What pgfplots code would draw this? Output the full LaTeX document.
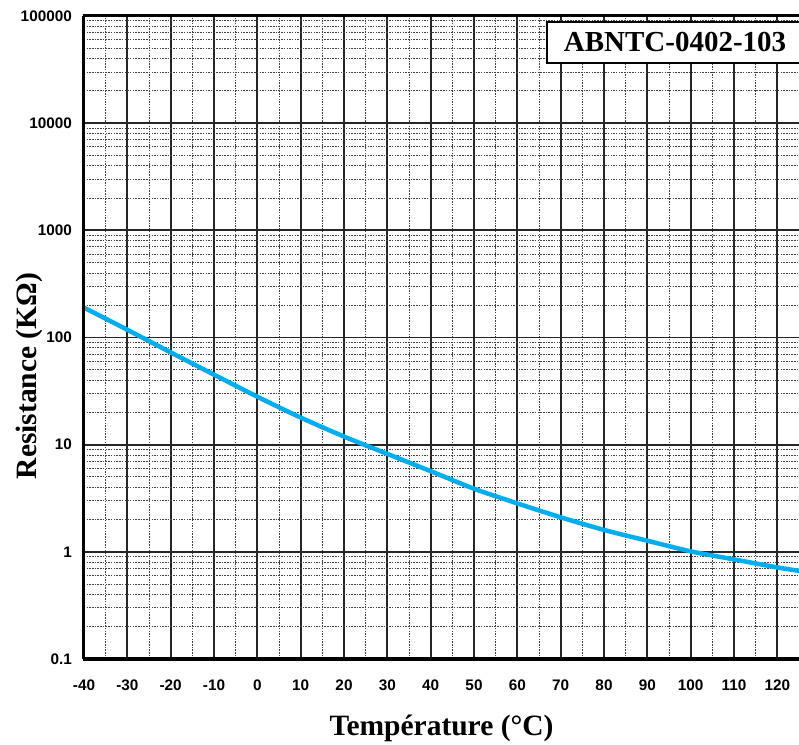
\documentclass[border=0pt]{standalone}
\usepackage{fontspec}
\setmainfont{Liberation Serif}
\setsansfont{Liberation Sans}
\usepackage{pgfplots}
\pgfplotsset{compat=1.18}

\definecolor{ntcblue}{RGB}{0,174,239}

\begin{document}
\begin{tikzpicture}
\useasboundingbox (-84pt,-85pt) rectangle (715pt,659pt);
\begin{axis}[
  at={(0pt,0pt)}, anchor=south west,
  scale only axis,
  width=715pt, height=643pt,
  xmin=-40, xmax=125,
  ymode=log, ymin=0.1, ymax=100000,
  xtick={-40,-30,-20,-10,0,10,20,30,40,50,60,70,80,90,100,110,120},
  xticklabels={-40,-30,-20,-10,0,10,20,30,40,50,60,70,80,90,100,110,120},
  minor xtick={-35,-25,-15,-5,5,15,25,35,45,55,65,75,85,95,105,115},
  ytick={0.1,1,10,100,1000,10000,100000},
  yticklabels={0.1,1,10,100,1000,10000,100000},
  minor ytick={0.2,0.3,0.4,0.5,0.6,0.7,0.8,0.9,
               2,3,4,5,6,7,8,9,
               20,30,40,50,60,70,80,90,
               200,300,400,500,600,700,800,900,
               2000,3000,4000,5000,6000,7000,8000,9000,
               20000,30000,40000,50000,60000,70000,80000,90000},
  major tick length=0pt, minor tick length=0pt,
  grid=both,
  major grid style={black!85, line width=1.8pt},
  minor grid style={black!75, line width=0.9pt, dash pattern=on 1.5pt off 1.2pt},
  axis line style={draw=none},
  tick label style={font=\fontsize{15.3}{15.3}\selectfont\sffamily\bfseries},
  xticklabel style={anchor=north, inner sep=0pt, yshift=-21pt},
  yticklabel style={anchor=east, inner sep=0pt, xshift=-12pt},
  xlabel={Température (°C)},
  xlabel style={at={(axis description cs:0.5,-0.1182)}, anchor=base,
    font=\fontsize{29.5}{29.5}\selectfont\bfseries},
  ylabel={Resistance (KΩ)},
  ylabel style={at={(axis description cs:-0.0671,0.44)}, anchor=base, rotate=0,
    font=\fontsize{29.5}{29.5}\selectfont\bfseries},
  clip=false,
]
\addplot[ntcblue, line width=4.5pt, smooth, tension=0.4] coordinates {
  (-40,190) (-30,118) (-20,72.6) (-10,45) (0,28) (10,17.9) (20,11.9)
  (30,8.2) (40,5.66) (50,3.88) (60,2.83) (70,2.1) (80,1.6) (90,1.27)
  (100,1.01) (110,0.85) (120,0.715) (125,0.665)
};
\draw[black, line width=3pt] (rel axis cs:0,0) -- (rel axis cs:0,1);
\draw[black, line width=4pt] (rel axis cs:-0.002,0) -- (rel axis cs:1,0);
\draw[black, line width=3pt] (rel axis cs:-0.002,1) -- (rel axis cs:1,1);
\end{axis}
\fill[white] (463pt,596pt) rectangle (715pt,637pt);
\draw[black, line width=2.8pt] (715pt,637pt) -- (463pt,637pt) -- (463pt,596pt) -- (715pt,596pt);
\node[font=\fontsize{29}{29}\selectfont\bfseries, inner sep=0pt] at (591pt,616.5pt) {ABNTC-0402-103};
\end{tikzpicture}
\end{document}
